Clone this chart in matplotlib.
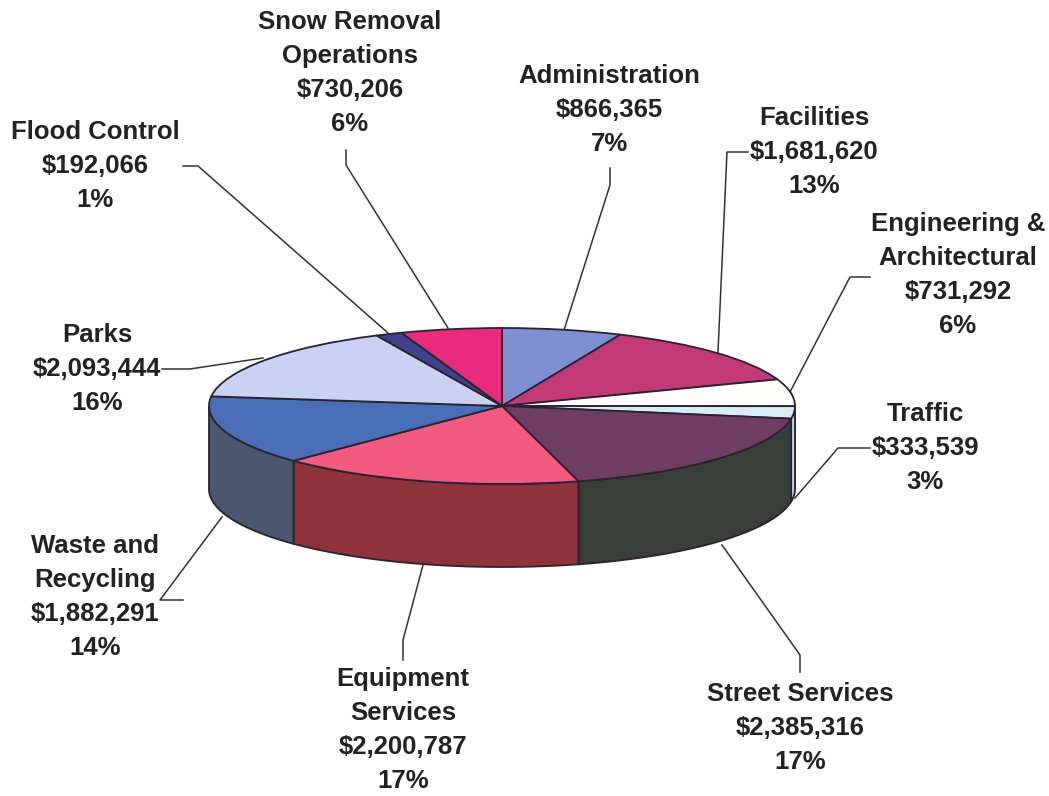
import numpy as np
from matplotlib import pyplot as plt
from matplotlib.patches import Polygon

names = ["Administration", "Facilities", "Engineering &\nArchitectural", "Traffic", "Street Services",
         "Equipment\nServices", "Waste and\nRecycling", "Parks", "Flood Control", "Snow Removal\nOperations"]
amounts = [866365, 1681620, 731292, 333539, 2385316, 2200787, 1882291, 2093444, 192066, 730206]
amount_labels = ["$866,365", "$1,681,620", "$731,292", "$333,539", "$2,385,316",
                 "$2,200,787", "$1,882,291", "$2,093,444", "$192,066", "$730,206"]
percents = ["7%", "13%", "6%", "3%", "17%", "17%", "14%", "16%", "1%", "6%"]

top_colors = ["#7f90d2", "#c23a78", "#fffefa", "#d8ecf8", "#6f3c62",
              "#f25a80", "#4a6fb8", "#c9d2f2", "#41408a", "#ea2a7c"]
wall_colors = ["#5f6c9c", "#8f2c5a", "#e8e8e8", "#c8d0ee", "#373f38",
               "#8f3239", "#4b5670", "#8f96ae", "#30306a", "#a82058"]

# label anchors (centre x, first line y) and leader lines, picture pixels
label_pos = [(609, 64), (814, 106), (958, 212), (925, 402), (800, 682),
             (403, 667), (95, 534), (97, 323), (95, 120), (350, 10)]
leaders = [[(610, 168), (610, 185), (564, 330)],
           [(748, 152), (727, 152), (718, 352)],
           [(870, 277), (850, 277), (790, 392)],
           [(870, 448), (838, 448), (795, 498)],
           [(800, 672), (800, 655), (722, 545)],
           [(403, 660), (403, 640), (423, 565)],
           [(183, 600), (160, 600), (222, 517)],
           [(162, 369), (190, 369), (263, 358)],
           [(183, 166), (198, 166), (388, 333)],
           [(346, 150), (346, 165), (448, 328)]]

CX, CY, RX, RY, DEPTH = 502, 406, 293, 78, 83
EDGE = "#2a2230"


def px(x, y):
    # picture pixels -> unit circle coords of the pie
    return (x - CX) / RX, (CY - y) / RY


fig = plt.figure(figsize=(10.49, 7.96), dpi=100)
ax = fig.add_axes([0, 0, 1, 1])

wedges, _ = ax.pie(amounts, startangle=90, counterclock=False, colors=top_colors,
                   wedgeprops={'edgecolor': EDGE, 'linewidth': 1.3, 'zorder': 3})
ax.set_aspect('auto')
ax.set_xlim(px(0, 0)[0], px(1049, 0)[0])
ax.set_ylim(px(0, 796)[1], px(0, 0)[1])
ax.axis('off')

# side walls, only the front half of the disc shows
fractions = np.cumsum([0] + amounts) / sum(amounts)
depth = DEPTH / RY
for i in range(len(amounts)):
    a0 = max(fractions[i] * 2 * np.pi, np.pi / 2)
    a1 = min(fractions[i + 1] * 2 * np.pi, 3 * np.pi / 2)
    if a1 <= a0:
        continue
    t = np.linspace(a0, a1, 60)
    upper = np.column_stack([np.sin(t), np.cos(t)])
    lower = (upper - [0, depth])[::-1]
    ax.add_patch(Polygon(np.vstack([upper, lower]), closed=True, facecolor=wall_colors[i],
                         edgecolor=EDGE, linewidth=1.3, zorder=2))

for line in leaders:
    pts = np.array([px(x, y) for x, y in line])
    ax.plot(pts[:, 0], pts[:, 1], color="#333333", linewidth=1.1, zorder=1)

for i in range(len(names)):
    x, y = px(*label_pos[i])
    ax.text(x, y, names[i] + "\n" + amount_labels[i] + "\n" + percents[i],
            ha='center', va='top', multialignment='center', family='Liberation Sans',
            fontweight='bold', fontsize=18.5, color="#222222", linespacing=1.53)

fig.savefig("out.png", dpi=100)
